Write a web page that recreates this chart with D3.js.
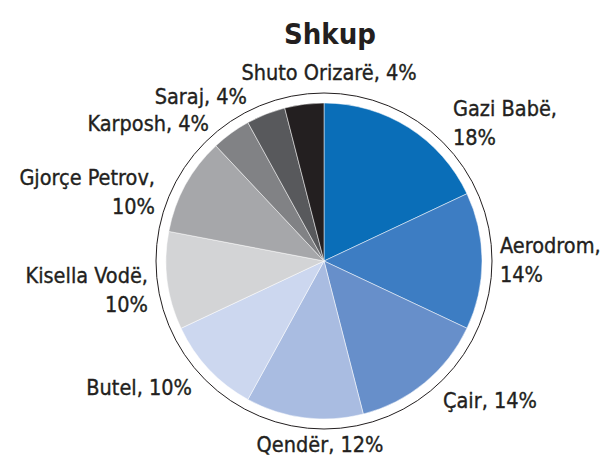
<!DOCTYPE html>
<html>
<head>
<meta charset="utf-8">
<script src="https://cdn.jsdelivr.net/npm/d3@7"></script>
<style>
  body { margin: 0; background: #fff; }
  svg { display: block; }
  text { font-family: "DejaVu Sans Condensed", "Liberation Sans Narrow", sans-serif; fill: #231f20; }
  .title { font-size: 29px; font-weight: 600; }
  .label { font-size: 21.5px; stroke: #231f20; stroke-width: 0.35px; }
</style>
</head>
<body>
<svg width="604" height="462"></svg>
<script>
const districts = ["Gazi Babë", "Aerodrom", "Çair", "Qendër", "Butel",
  "Kisella Vodë", "Gjorçe Petrov", "Karposh", "Saraj", "Shuto Orizarë"];
const shares = [18, 14, 14, 12, 10, 10, 10, 4, 4, 4];
const colors = ["#0a6eb8", "#3d7dc3", "#678fca", "#a9bce1", "#ccd7ef",
  "#d3d4d6", "#a6a7aa", "#818285", "#58595c", "#231f20"];

const svg = d3.select("svg");
const width = +svg.attr("width");

const cx = 324, cy = 261;
const radius = 158;
const ringRadius = 168;

// label placement relative to pie centre: [dx, dy of first baseline, anchor, split lines]
const labelLayout = {
  "Gazi Babë":     [129, -145, "start", true],
  "Aerodrom":      [176, -8, "start", true],
  "Çair":          [119, 147, "start", false],
  "Qendër":        [-4, 191, "middle", false],
  "Butel":         [-132, 134, "end", false],
  "Kisella Vodë":  [-176, 22, "end", true],
  "Gjorçe Petrov": [-169, -76, "end", true],
  "Karposh":       [-115, -130, "end", false],
  "Saraj":         [-77, -157, "end", false],
  "Shuto Orizarë": [5, -181, "middle", false]
};

const data = districts.map((d, i) => ({ name: d, value: shares[i] }));

const color = d3.scaleOrdinal().domain(districts).range(colors);

const pie = d3.pie().value(d => d.value).sort(null);
const arc = d3.arc().innerRadius(0).outerRadius(radius);

svg.append("text")
  .attr("class", "title")
  .attr("x", width / 2 + 28)
  .attr("y", 44)
  .attr("text-anchor", "middle")
  .text("Shkup");

const g = svg.append("g").attr("transform", `translate(${cx},${cy})`);

g.append("circle")
  .attr("r", ringRadius)
  .attr("fill", "#fff")
  .attr("stroke", "#231f20")
  .attr("stroke-width", 1);

g.selectAll("path")
  .data(pie(data))
  .enter()
  .append("path")
  .attr("d", arc)
  .attr("fill", d => color(d.data.name))
  .attr("stroke", "#fff")
  .attr("stroke-width", 0.5);

const labels = g.selectAll(".label")
  .data(pie(data))
  .enter()
  .append("text")
  .attr("class", "label")
  .attr("text-anchor", d => labelLayout[d.data.name][2]);

labels.each(function(d) {
  const [dx, dy, , split] = labelLayout[d.data.name];
  const el = d3.select(this);
  const lines = split ? [d.data.name + ",", d.value + "%"] : [d.data.name + ", " + d.value + "%"];
  lines.forEach((t, i) => {
    el.append("tspan")
      .attr("x", dx)
      .attr("y", dy + i * 29)
      .text(t);
  });
});
</script>
</body>
</html>
